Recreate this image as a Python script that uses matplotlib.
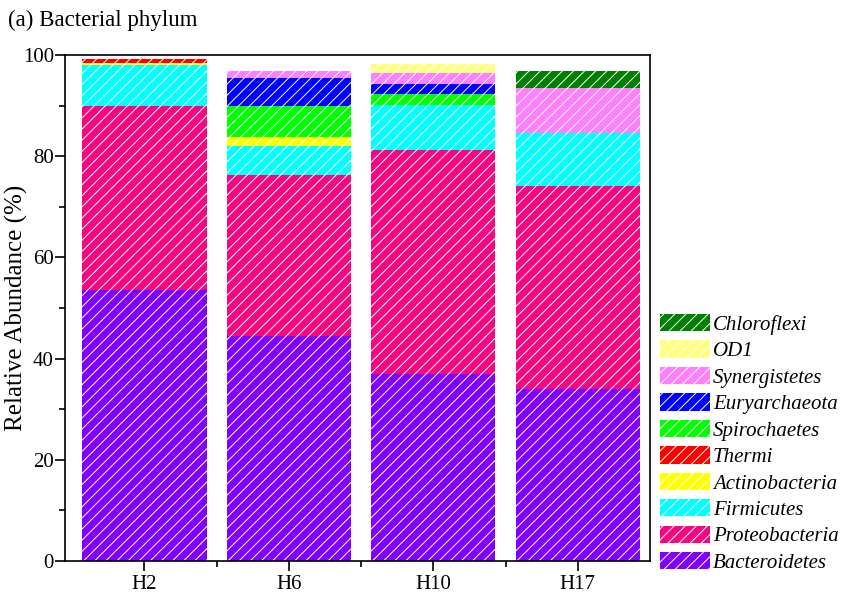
import numpy as np
import matplotlib
matplotlib.use('Agg')
import matplotlib.pyplot as plt

plt.rcParams['font.family'] = ['Liberation Serif', 'DejaVu Serif']
plt.rcParams['hatch.color'] = 'white'
plt.rcParams['hatch.linewidth'] = 0.7

samples = ['H2', 'H6', 'H10', 'H17']
phyla = ['Bacteroidetes', 'Proteobacteria', 'Firmicutes', 'Actinobacteria', 'Thermi',
         'Spirochaetes', 'Euryarchaeota', 'Synergistetes', 'OD1', 'Chloroflexi']
colors = ['#8000ff', '#f5077f', '#00ffff', '#ffff00', '#ff0000',
          '#00ff00', '#0000ff', '#ff80ff', '#ffff80', '#008000']

# relative abundance (%) for H2, H6, H10, H17
bacteroidetes = [53.6, 44.5, 37.0, 34.0]
proteobacteria = [36.3, 31.8, 44.2, 40.1]
firmicutes = [8.1, 5.7, 8.9, 10.4]
actinobacteria = [0.5, 1.7, 0.0, 0.0]
thermi = [0.7, 0.0, 0.0, 0.0]
spirochaetes = [0.0, 6.2, 2.1, 0.0]
euryarchaeota = [0.0, 5.5, 2.1, 0.0]
synergistetes = [0.0, 1.5, 2.1, 9.0]
od1 = [0.0, 0.0, 1.8, 0.0]
chloroflexi = [0.0, 0.0, 0.0, 3.4]

values = [bacteroidetes, proteobacteria, firmicutes, actinobacteria, thermi,
          spirochaetes, euryarchaeota, synergistetes, od1, chloroflexi]

fig = plt.figure(figsize=(8.43, 5.94), dpi=100)
ax = fig.add_axes([65/843, 33/594, 585/843, 506/594])

x = np.arange(len(samples))
bottom = np.zeros(len(samples))
handles = []
for name, vals, c in zip(phyla, values, colors):
    b = ax.bar(x, vals, width=0.86, bottom=bottom, color=c, edgecolor='white',
               linewidth=0, hatch='///', label=name)
    handles.append(b)
    bottom += np.array(vals)

ax.set_xlim(-0.55, 3.5)
ax.set_ylim(0, 100)
ax.set_xticks(x)
ax.set_xticklabels(samples)
ax.set_xticks([0.5, 1.5, 2.5], minor=True)
ax.set_yticks(range(0, 101, 20))
ax.set_yticks(range(10, 100, 20), minor=True)
ax.tick_params(axis='both', which='major', direction='out', length=7, width=1.2, labelsize=15)
ax.tick_params(axis='both', which='minor', direction='out', length=4, width=1.2)
ax.tick_params(axis='x', pad=3)
ax.tick_params(axis='y', pad=1)
for s in ax.spines.values():
    s.set_linewidth(1.2)

# y label placed in figure coords so it is not clipped
fig.text(16/843, 1 - 308/594, 'Relative Abundance (%)', fontsize=18, rotation=90,
         va='center', ha='center')

fig.text(8/843, 1 - 20/594, '(a) Bacterial phylum', fontsize=16.5, va='center', ha='left')

leg = fig.legend(handles[::-1], phyla[::-1], loc='upper left',
                 bbox_to_anchor=(660/843, 1 - 314/594), frameon=False,
                 prop={'style': 'italic', 'size': 15}, handlelength=2.4,
                 handleheight=0.9, labelspacing=0.27, handletextpad=0.15,
                 borderaxespad=0, borderpad=0)

fig.savefig('out.png', dpi=100)
